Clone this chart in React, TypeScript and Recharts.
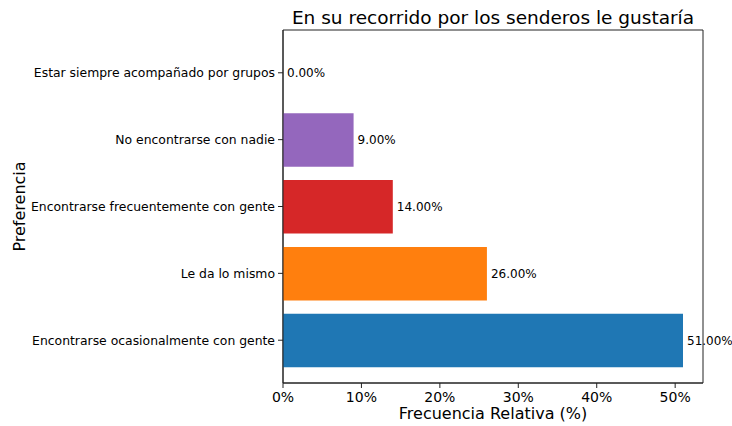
import React from "react";
import {
  BarChart,
  Bar,
  XAxis,
  YAxis,
  Cell,
  LabelList,
  ReferenceArea,
} from "recharts";

// bottom to top, as matplotlib places them (y = 0, 1, 2, ...)
const categories = [
  "Encontrarse ocasionalmente con gente",
  "Le da lo mismo",
  "Encontrarse frecuentemente con gente",
  "No encontrarse con nadie",
  "Estar siempre acompañado por grupos",
];
const percents = [51, 26, 14, 9, 0];
const barColors = ["#1f77b4", "#ff7f0e", "#d62728", "#9467bd", "#2ca02c"];
const xTicks = [0, 10, 20, 30, 40, 50];
const yTicks = [0, 1, 2, 3, 4];
const xMax = 53.55;
const yDomain = [-0.64, 4.64];

const title = "En su recorrido por los senderos le gustaría";
const xLabel = "Frecuencia Relativa (%)";
const yLabel = "Preferencia";

const font = "'DejaVu Sans', sans-serif";
const spine = "#222";

const data = categories.map((name, i) => ({ name, pos: i, value: percents[i] }));

function YLabel(props: any) {
  const vb = props.viewBox || {};
  const cx = (vb.x ?? 0) + 25;
  const cy = (vb.y ?? 0) + (vb.height ?? 0) / 2;
  return (
    <text
      x={cx}
      y={cy}
      transform={`rotate(-90, ${cx}, ${cy})`}
      textAnchor="middle"
      fontSize={16}
      fontFamily={font}
      fill="#000"
    >
      {yLabel}
    </text>
  );
}

export default function App() {
  return (
    <div style={{ position: "absolute", left: 0, top: 0, background: "#fff" }}>
      <BarChart
        width={732}
        height={426}
        data={data}
        layout="vertical"
        margin={{ top: 30, right: 29, bottom: 0, left: 0 }}
      >
        <XAxis
          type="number"
          domain={[0, xMax]}
          ticks={xTicks}
          tickFormatter={(v: number) => `${v}%`}
          allowDataOverflow
          height={43}
          stroke={spine}
          tickSize={5}
          tickMargin={4}
          tick={{ fontSize: 14, fill: "#000", fontFamily: font }}
          label={{
            value: xLabel,
            position: "insideBottom",
            offset: 7,
            fontSize: 16,
            fill: "#000",
            fontFamily: font,
          }}
        />
        <YAxis
          type="number"
          dataKey="pos"
          domain={yDomain}
          ticks={yTicks}
          reversed
          allowDataOverflow
          interval={0}
          tickFormatter={(v: number) => categories[v] ?? ""}
          width={283}
          stroke={spine}
          tickSize={5}
          tickMargin={3}
          tick={{ fontSize: 12.4, fill: "#000", fontFamily: font }}
          label={<YLabel />}
        />
        <ReferenceArea
          x1={0}
          x2={xMax}
          y1={yDomain[0]}
          y2={yDomain[1]}
          fill="none"
          fillOpacity={0}
          stroke={spine}
          strokeWidth={1}
          ifOverflow="visible"
          label={{
            value: title,
            position: "top",
            offset: 6,
            fontSize: 18.5,
            fill: "#000",
            fontFamily: font,
          }}
        />
        <Bar
          dataKey="value"
          isAnimationActive={false}
          barSize={53.5}
          minPointSize={0.01}
        >
          {data.map((d, i) => (
            <Cell key={d.name} fill={barColors[i]} />
          ))}
          <LabelList
            dataKey="value"
            position="right"
            offset={4}
            formatter={(v: any) => `${Number(v).toFixed(2)}%`}
            fill="#000"
            fontSize={12}
            fontFamily={font}
          />
        </Bar>
      </BarChart>
    </div>
  );
}
